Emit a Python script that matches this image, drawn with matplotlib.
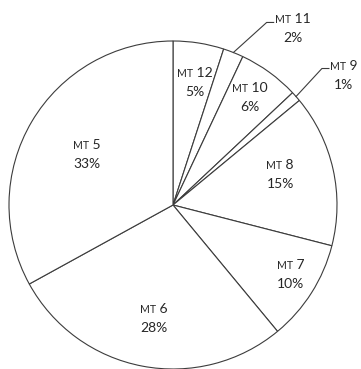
import numpy as np
import matplotlib
matplotlib.use("Agg")
import matplotlib.pyplot as plt
from matplotlib.transforms import offset_copy

# slice data, clockwise from 12 o'clock
mt_numbers = [12, 11, 10, 9, 8, 7, 6, 5]
shares = [5, 2, 6, 1, 15, 10, 28, 33]

# label placement (radius as fraction of pie radius, small angle nudge in degrees)
label_radius = [0.76, 1.30, 0.81, 1.31, 0.68, 0.83, 0.70, 0.61]
label_nudge = [-1, -12.5, 0.5, -4.0, 3.4, 2, 1, 0]
outside = [False, True, False, True, False, False, False, False]

EDGE = "#3c3c3c"
TEXT = "#262626"
BIG = 10
SMALL = 7.6

plt.rcParams["font.family"] = ["Lato", "DejaVu Sans"]

fig = plt.figure(figsize=(3.61, 3.69), dpi=100)
ax = fig.add_axes([0, 0, 1, 1])

wedges, _ = ax.pie(shares, startangle=90, counterclock=False, radius=1.0,
                   colors=["white"] * len(shares),
                   wedgeprops=dict(edgecolor=EDGE, linewidth=0.8))

# pie centre at (173, 205) px, radius 164 px
ax.set_aspect("auto")
ax.set_xlim(-173 / 164, 188 / 164)
ax.set_ylim(-164 / 164, 205 / 164)
ax.axis("off")

renderer = fig.canvas.get_renderer()
px = 164.0  # pixels per data unit

for w, num, pct, r, nudge, out in zip(wedges, mt_numbers, shares,
                                      label_radius, label_nudge, outside):
    mid = np.deg2rad((w.theta1 + w.theta2) / 2 + nudge)
    x, y = r * np.cos(mid), r * np.sin(mid)

    t1 = ax.text(x, y, "MT", fontsize=SMALL, color=TEXT, ha="left", va="baseline")
    t2 = ax.text(x, y, f" {num}", fontsize=BIG, color=TEXT, ha="left", va="baseline")
    t3 = ax.text(x, y, f"{pct}%", fontsize=BIG, color=TEXT, ha="center", va="baseline")
    w1 = t1.get_window_extent(renderer).width
    w2 = t2.get_window_extent(renderer).width
    total = w1 + w2
    t1.set_transform(offset_copy(ax.transData, fig, x=-total / 2, y=5, units="dots"))
    t2.set_transform(offset_copy(ax.transData, fig, x=-total / 2 + w1, y=5, units="dots"))
    t3.set_transform(offset_copy(ax.transData, fig, x=0, y=-14, units="dots"))

    if out:
        # leader line from the slice edge to the left of the label
        a = np.deg2rad((w.theta1 + w.theta2) / 2)
        sx, sy = 1.0 * np.cos(a), 1.0 * np.sin(a)
        ex = x - (total / 2 + 1) / px
        ey = y + 6 / px
        ax.plot([sx, ex - 7 / px, ex], [sy, ey, ey], color=EDGE, lw=0.8)

fig.savefig("out.png", dpi=100)
